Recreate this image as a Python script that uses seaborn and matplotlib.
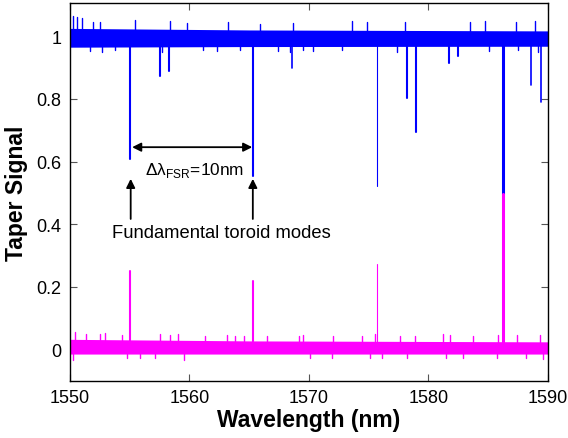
import matplotlib
matplotlib.use("Agg")
import matplotlib.pyplot as plt
import seaborn as sns
import pandas as pd
import numpy as np

# taper transmission (blue) and drop signal (magenta)
band_wl = [1550, 1565, 1590]
blue_lo = [0.965, 0.967, 0.968]
blue_hi = [1.025, 1.020, 1.017]
mag_lo = [-0.014, -0.014, -0.014]
mag_hi = [0.033, 0.028, 0.025]

# resonance dips in the blue trace
dip_wl = [1555.05, 1557.53, 1558.28, 1565.29, 1568.58, 1575.69, 1578.24,
          1578.93, 1581.7, 1582.45, 1586.23, 1588.6, 1589.4]
dip_val = [0.608, 0.873, 0.89, 0.553, 0.90, 0.523, 0.803,
           0.693, 0.916, 0.937, 0.497, 0.845, 0.789]
dip_lw = [1.5, 1.5, 1.5, 1.5, 1.2, 0.8, 1.5, 1.5, 1.5, 1.5, 2.2, 1.2, 1.2]

# peaks in the magenta trace
peak_wl = [1555.05, 1565.29, 1575.69, 1586.23]
peak_val = [0.25, 0.22, 0.274, 0.497]
peak_lw = [1.5, 1.5, 0.8, 2.2]

# noise spikes sticking out of the bands
blue_up_wl = [1550.25, 1550.6, 1551.0, 1551.9, 1552.5, 1555.4, 1558.4, 1559.8,
              1563.2, 1565.9, 1568.7, 1573.6, 1574.85, 1578.0, 1583.5, 1584.7,
              1587.3, 1588.9]
blue_up_val = [1.063, 1.06, 1.058, 1.045, 1.045, 1.052, 1.05, 1.042,
               1.045, 1.04, 1.042, 1.05, 1.045, 1.045, 1.045, 1.05,
               1.045, 1.05]
blue_dn_wl = [1551.7, 1552.7, 1553.8, 1557.7, 1561.1, 1562.3, 1564.2, 1567.4,
              1568.4, 1569.5, 1570.3, 1572.8, 1577.4, 1585.1, 1587.5, 1589.2]
blue_dn_val = [0.952, 0.95, 0.955, 0.95, 0.955, 0.952, 0.955, 0.952,
               0.95, 0.955, 0.952, 0.955, 0.95, 0.952, 0.955, 0.95]
mag_up_wl = [1550.4, 1551.3, 1552.5, 1552.9, 1554.35, 1557.5, 1558.4, 1559.0,
             1561.3, 1563.1, 1563.8, 1564.6, 1566.5, 1569.2, 1569.5, 1572.0,
             1574.4, 1575.5, 1577.6, 1578.9, 1581.2, 1581.8, 1583.7, 1585.8,
             1587.4, 1589.3]
mag_up_val = [0.055, 0.05, 0.05, 0.052, 0.048, 0.05, 0.048, 0.05,
              0.045, 0.048, 0.045, 0.045, 0.045, 0.045, 0.048, 0.045,
              0.045, 0.05, 0.045, 0.045, 0.05, 0.048, 0.045, 0.048,
              0.048, 0.048]
mag_dn_wl = [1550.25, 1554.8, 1555.9, 1557.1, 1559.5, 1570.1, 1571.9, 1575.1,
             1576.1, 1578.2, 1581.5, 1582.9, 1585.7, 1588.2, 1589.6]
mag_dn_val = [-0.033, -0.028, -0.028, -0.026, -0.032, -0.028, -0.026, -0.028,
              -0.026, -0.028, -0.028, -0.026, -0.028, -0.026, -0.03]

x_ticks = [1550, 1560, 1570, 1580, 1590]
y_ticks = [0, 0.2, 0.4, 0.6, 0.8, 1]
y_ticklabels = ["0", "0.2", "0.4", "0.6", "0.8", "1"]

BLUE = "#0000ff"
MAG = "#ff00ff"

sns.set_style("ticks")
plt.rcParams["font.family"] = ["Liberation Sans", "DejaVu Sans"]
plt.rcParams["mathtext.fontset"] = "custom"
plt.rcParams["mathtext.rm"] = "Liberation Sans"
plt.rcParams["text.color"] = "black"
plt.rcParams["axes.labelcolor"] = "black"

fig = plt.figure(figsize=(5.68, 4.39), dpi=100)
ax = fig.add_axes([0.1232, 0.1298, 0.9648 - 0.1232, 0.9909 - 0.1298])


def trace(wl, val, base):
    # vertical excursions from the band level, one unit per feature
    rows = []
    for i, (w, v) in enumerate(zip(wl, val)):
        rows += [(i, w, base), (i, w, v)]
    return pd.DataFrame(rows, columns=["unit", "wl", "sig"])


# noise bands
ax.fill_between(band_wl, blue_lo, blue_hi, color=BLUE, lw=0)
ax.fill_between(band_wl, mag_lo, mag_hi, color=MAG, lw=0)

# noise spikes
for wl, val, base, col in [(blue_up_wl, blue_up_val, 1.0, BLUE),
                           (blue_dn_wl, blue_dn_val, 0.98, BLUE),
                           (mag_up_wl, mag_up_val, 0.01, MAG),
                           (mag_dn_wl, mag_dn_val, 0.0, MAG)]:
    d = trace(wl, val, base)
    sns.lineplot(data=d, x="wl", y="sig", units="unit", estimator=None,
                 sort=False, color=col, lw=1.0, ax=ax)

# resonances
for i in range(len(dip_wl)):
    d = trace([dip_wl[i]], [dip_val[i]], 0.98)
    sns.lineplot(data=d, x="wl", y="sig", units="unit", estimator=None,
                 sort=False, color=BLUE, lw=dip_lw[i], ax=ax)
for i in range(len(peak_wl)):
    d = trace([peak_wl[i]], [peak_val[i]], 0.01)
    sns.lineplot(data=d, x="wl", y="sig", units="unit", estimator=None,
                 sort=False, color=MAG, lw=peak_lw[i], ax=ax)

# annotations
ax.annotate("", xy=(1555.2, 0.646), xytext=(1565.25, 0.646),
            arrowprops=dict(arrowstyle="<|-|>", color="black", lw=1.3,
                            mutation_scale=13, shrinkA=0, shrinkB=0))
ax.text(1560.4, 0.575, "Δλ$_{\\mathregular{FSR}}$=10nm", ha="center",
        va="center", fontsize=12.4)
for w in [1555.08, 1565.3]:
    ax.annotate("", xy=(w, 0.545), xytext=(w, 0.417),
                arrowprops=dict(arrowstyle="-|>", color="black", lw=1.3,
                                mutation_scale=13, shrinkA=0, shrinkB=0))
ax.text(1553.5, 0.374, "Fundamental toroid modes", ha="left", va="center",
        fontsize=13.2)

ax.set_xlim(1550, 1590)
ax.set_ylim(-0.1, 1.106)
ax.set_xticks(x_ticks)
ax.set_xticklabels([str(t) for t in x_ticks])
ax.set_yticks(y_ticks)
ax.set_yticklabels(y_ticklabels)
ax.tick_params(direction="in", top=True, right=True, length=5, width=0.8,
               labelsize=13, color="#555555", labelcolor="black", pad=6)
for s in ax.spines.values():
    s.set_linewidth(1.0)
    s.set_color("black")
    s.set_visible(True)
ax.set_xlabel("Wavelength (nm)", fontsize=16.5, fontweight="bold", labelpad=1)
ax.set_ylabel("Taper Signal", fontsize=16.5, fontweight="bold", labelpad=6)

fig.savefig("out.png", dpi=100)
